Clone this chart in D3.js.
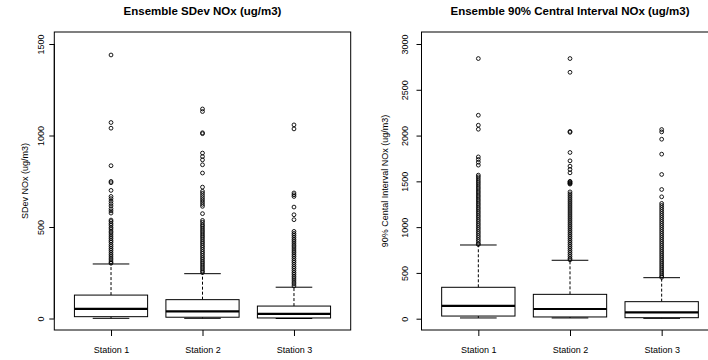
<!DOCTYPE html>
<html>
<head>
<meta charset="utf-8">
<script src="https://cdn.jsdelivr.net/npm/d3@7"></script>
<style>
  body { margin: 0; background: #fff; }
  svg { display: block; font-family: "Liberation Sans", Arial, Helvetica, sans-serif; }
</style>
</head>
<body>
<svg id="chart"></svg>
<script>
const stations = ["Station 1", "Station 2", "Station 3"];

// left panel: ensemble SDev
const sdevTicks = [0, 500, 1000, 1500];
const sdevLower = [1, 1, 0];
const sdevQ1 = [10, 7, 3];
const sdevMedian = [53, 39, 25];
const sdevQ3 = [128, 103, 68];
const sdevUpper = [298, 245, 171];
const sdevOut1 = [1440, 1071, 1040, 835, 749, 742, 700, 667, 655, 641, 628, 615, 600, 588, 576,
  538, 530, 519, 510, 498, 489, 477, 468, 457, 446, 436, 425, 416, 404, 394, 383, 373, 362, 351, 341, 330, 320, 309, 302];
const sdevOut2 = [1145, 1131, 1015, 1010, 904, 885, 867, 840, 795, 718, 695, 684, 672, 660, 648, 636, 624, 613, 573,
  536, 526, 514, 505, 494, 483, 473, 462, 451, 441, 430, 419, 409, 398, 388, 377, 366, 356, 345, 334, 324, 313, 303, 292, 281, 271, 260, 251];
const sdevOut3 = [1058, 1036, 686, 676, 667, 609, 567, 540,
  476, 465, 455, 444, 433, 423, 412, 401, 391, 380, 369, 359, 348, 338, 327, 316, 306, 295, 284, 274, 263, 252, 242, 231, 221, 210, 199, 189, 178];

// right panel: ensemble 90% central interval
const ciTicks = [0, 500, 1000, 1500, 2000, 2500, 3000];
const ciLower = [8, 8, 4];
const ciQ1 = [29, 19, 11];
const ciMedian = [139, 106, 68];
const ciQ3 = [343, 266, 186];
const ciUpper = [805, 638, 448];
const ciOut1 = [2841, 2222, 2113, 2069, 1767, 1739, 1709, 1677, 1568,
  1549, 1527, 1504, 1483, 1461, 1438, 1417, 1394, 1373, 1350, 1329, 1306, 1285, 1262, 1241, 1218, 1197, 1174, 1153, 1130,
  1109, 1086, 1065, 1042, 1021, 998, 977, 954, 933, 910, 889, 866, 845, 822, 810];
const ciOut2 = [2841, 2691, 2045, 2035, 1815, 1724, 1666, 1630, 1593, 1500, 1494, 1485, 1477, 1470,
  1385, 1363, 1341, 1319, 1297, 1275, 1253, 1231, 1209, 1187, 1165, 1143, 1121, 1099, 1077, 1055, 1033, 1011,
  989, 967, 945, 923, 901, 879, 857, 835, 813, 791, 769, 747, 725, 703, 681, 659, 643];
const ciOut3 = [2066, 2040, 1960, 1797, 1575, 1411, 1331,
  1259, 1237, 1215, 1193, 1171, 1149, 1127, 1105, 1083, 1061, 1039, 1017, 995, 973, 951, 929, 907, 885, 863, 841,
  819, 797, 775, 753, 731, 709, 687, 665, 643, 621, 599, 577, 555, 533, 511, 489, 467, 452];

const W = 708, H = 360;
const svg = d3.select("#chart").attr("width", W).attr("height", H);
svg.append("rect").attr("width", W).attr("height", H).attr("fill", "#fff");

const plotTop = 32, plotBottom = 330;

function buildBoxes(lo, q1, med, q3, hi, outs) {
  return stations.map((s, i) => ({ name: s, idx: i + 1, lo: lo[i], q1: q1[i], med: med[i], q3: q3[i], hi: hi[i], out: outs[i] }));
}

function drawPanel(cfg) {
  const g = svg.append("g");
  const x = d3.scaleLinear().domain([0.38, 3.62]).range([cfg.left, cfg.right]);
  const y = d3.scaleLinear().domain(cfg.yDomain).range([plotBottom, plotTop]);
  const half = x(1.4) - x(1);
  const staple = x(1.2) - x(1);

  // title
  g.append("text")
    .attr("x", (cfg.left + cfg.right) / 2)
    .attr("y", 15)
    .attr("text-anchor", "middle")
    .attr("font-size", 11.5)
    .attr("font-weight", "bold")
    .text(cfg.title);

  // y axis
  const yAxis = g.append("g")
    .attr("transform", `translate(${cfg.left},0)`)
    .call(d3.axisLeft(y).tickValues(cfg.ticks).tickSize(5).tickFormat(d3.format("d")));
  yAxis.select(".domain").remove();
  yAxis.selectAll("line").attr("stroke", "#000");
  yAxis.selectAll("text")
    .attr("transform", "rotate(-90)")
    .attr("x", 0)
    .attr("y", -cfg.tickLabelGap)
    .attr("dy", 0)
    .attr("text-anchor", "middle")
    .attr("font-size", 9)
    .attr("font-family", null)
    .attr("fill", "#000");
  yAxis.append("line")
    .attr("x1", 0).attr("x2", 0)
    .attr("y1", y(cfg.ticks[0])).attr("y2", y(cfg.ticks[cfg.ticks.length - 1]))
    .attr("stroke", "#000");

  g.append("text")
    .attr("transform", `translate(${cfg.labelX},${(plotTop + plotBottom) / 2}) rotate(-90)`)
    .attr("text-anchor", "middle")
    .attr("font-size", 9)
    .text(cfg.ylabel);

  // x axis
  const xAxis = g.append("g")
    .attr("transform", `translate(0,${plotBottom})`)
    .call(d3.axisBottom(x).tickValues([1, 2, 3]).tickSize(6).tickFormat((d) => stations[d - 1]));
  xAxis.select(".domain").remove();
  xAxis.selectAll("line").attr("stroke", "#000");
  xAxis.selectAll("text")
    .attr("y", 22.5)
    .attr("dy", 0)
    .attr("font-size", 9)
    .attr("font-family", null)
    .attr("fill", "#000");

  // frame
  g.append("rect")
    .attr("x", cfg.left).attr("y", plotTop)
    .attr("width", cfg.right - cfg.left).attr("height", plotBottom - plotTop)
    .attr("fill", "none").attr("stroke", "#000");

  const boxes = g.selectAll(".box")
    .data(cfg.data)
    .enter()
    .append("g")
    .attr("class", "box");

  // whiskers
  boxes.append("line")
    .attr("x1", (d) => x(d.idx)).attr("x2", (d) => x(d.idx))
    .attr("y1", (d) => y(d.q3)).attr("y2", (d) => y(d.hi))
    .attr("stroke", "#000").attr("stroke-dasharray", "3,2");
  boxes.append("line")
    .attr("x1", (d) => x(d.idx)).attr("x2", (d) => x(d.idx))
    .attr("y1", (d) => y(d.q1)).attr("y2", (d) => y(d.lo))
    .attr("stroke", "#000").attr("stroke-dasharray", "3,2");
  boxes.append("line")
    .attr("x1", (d) => x(d.idx) - staple).attr("x2", (d) => x(d.idx) + staple)
    .attr("y1", (d) => y(d.hi)).attr("y2", (d) => y(d.hi))
    .attr("stroke", "#000");
  boxes.append("line")
    .attr("x1", (d) => x(d.idx) - staple).attr("x2", (d) => x(d.idx) + staple)
    .attr("y1", (d) => y(d.lo)).attr("y2", (d) => y(d.lo))
    .attr("stroke", "#000");

  // boxes
  boxes.append("rect")
    .attr("x", (d) => x(d.idx) - half)
    .attr("y", (d) => y(d.q3))
    .attr("width", half * 2)
    .attr("height", (d) => y(d.q1) - y(d.q3))
    .attr("fill", "#fff").attr("stroke", "#000");
  boxes.append("line")
    .attr("x1", (d) => x(d.idx) - half).attr("x2", (d) => x(d.idx) + half)
    .attr("y1", (d) => y(d.med)).attr("y2", (d) => y(d.med))
    .attr("stroke", "#000").attr("stroke-width", 2.2);

  // outliers
  boxes.selectAll("circle")
    .data((d) => d.out.map((v) => ({ idx: d.idx, v: v })))
    .enter()
    .append("circle")
    .attr("cx", (d) => x(d.idx))
    .attr("cy", (d) => y(d.v))
    .attr("r", 1.9)
    .attr("fill", "none")
    .attr("stroke", "#000")
    .attr("stroke-width", 0.9);
}

drawPanel({
  title: "Ensemble SDev NOx (ug/m3)",
  ylabel: "SDev NOx (ug/m3)",
  left: 54.3, right: 350.7,
  yDomain: [-62.8, 1565.6],
  ticks: sdevTicks,
  tickLabelGap: 10.3,
  labelX: 27.5,
  data: buildBoxes(sdevLower, sdevQ1, sdevMedian, sdevQ3, sdevUpper, [sdevOut1, sdevOut2, sdevOut3])
});

drawPanel({
  title: "Ensemble 90% Central Interval NOx (ug/m3)",
  ylabel: "90% Cental Interval NOx (ug/m3)",
  left: 421.5, right: 718.5,
  yDomain: [-123.4, 3131],
  ticks: ciTicks,
  tickLabelGap: 13.5,
  labelX: 388,
  data: buildBoxes(ciLower, ciQ1, ciMedian, ciQ3, ciUpper, [ciOut1, ciOut2, ciOut3])
});
</script>
</body>
</html>
